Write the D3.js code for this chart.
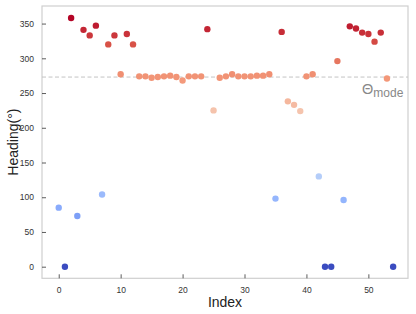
<!DOCTYPE html>
<html lang="en">
<head>
  <meta charset="UTF-8">
  <title>Heading vs Index</title>
  <style>
    body { margin: 0; background: #fff; }
    svg { display: block; font-family: "Liberation Sans", Arial, sans-serif; }
  </style>
</head>
<body>
  <svg width="416" height="314"></svg>
  <script src="https://d3js.org/d3.v7.min.js"></script>
  <script>
    // data: heading (deg) per sample index
    const indices = d3.range(55);
    const headings = [
      85, 0, 358, 73, 341, 333, 347, 104, 320, 333,
      277, 335, 320, 274, 274, 272, 273, 274, 275, 273,
      268, 274, 274, 274, 342, 225, 272, 274, 277, 274,
      274, 274, 275, 275, 277, 98, 338, 238, 233, 224,
      274, 277, 130, 0, 0, 296, 96, 346, 343, 337,
      335, 324, 337, 271, 0
    ];
    const modeHeading = 273;
    const xTicks = [0, 10, 20, 30, 40, 50];
    const yTicks = [0, 50, 100, 150, 200, 250, 300, 350];

    const svg = d3.select("svg");
    const mLeft = 42, mRight = 408, mTop = 6, mBottom = 278.3;

    const x = d3.scaleLinear().domain([-2.7, 56.4]).range([mLeft, mRight]);
    const y = d3.scaleLinear().domain([-16.7, 375.3]).range([mBottom, mTop]);

    // matplotlib "coolwarm" approximation
    const coolwarm = d3.piecewise(d3.interpolateRgb, [
      "#3b4cc0", "#6282ea", "#8db0fe", "#b8d0f9", "#dddddd",
      "#f5c4ad", "#f49a7b", "#de604d", "#b40426"
    ]);
    const color = d3.scaleSequential(coolwarm).domain(d3.extent(headings));

    // frame
    svg.append("rect")
      .attr("x", mLeft).attr("y", mTop)
      .attr("width", mRight - mLeft).attr("height", mBottom - mTop)
      .attr("fill", "none").attr("stroke", "#cfcfcf").attr("stroke-width", 1.2);

    // ticks (inward) and labels
    const tickColor = "#333";
    const xg = svg.append("g").attr("transform", `translate(0,${mBottom})`)
      .call(d3.axisBottom(x).tickValues(xTicks).tickSizeInner(-4).tickSizeOuter(0).tickPadding(9));
    const yg = svg.append("g").attr("transform", `translate(${mLeft},0)`)
      .call(d3.axisLeft(y).tickValues(yTicks).tickSizeInner(-4).tickSizeOuter(0).tickPadding(8));
    [xg, yg].forEach(g => {
      g.select(".domain").remove();
      g.selectAll("line").attr("stroke", tickColor).attr("stroke-width", 0.8);
      g.selectAll("text").attr("fill", "#333").style("font-size", "8.5px")
        .style("font-family", "'Liberation Sans', Arial, sans-serif");
    });

    // mode line
    svg.append("line")
      .attr("x1", mLeft).attr("x2", mRight)
      .attr("y1", y(modeHeading)).attr("y2", y(modeHeading))
      .attr("stroke", "#c4c4c4").attr("stroke-width", 1)
      .attr("stroke-dasharray", "4,2.5");

    const lbl = svg.append("text")
      .attr("x", 362).attr("y", 93.5)
      .attr("fill", "#888");
    lbl.append("tspan").style("font-size", "14.5px").text("Θ");
    lbl.append("tspan").attr("dy", 3).style("font-size", "12px").text("mode");

    // points
    svg.append("g").selectAll("circle")
      .data(indices)
      .join("circle")
      .attr("cx", d => x(d))
      .attr("cy", d => y(headings[d]))
      .attr("r", 3.2)
      .attr("fill", d => color(headings[d]));

    // axis titles
    svg.append("text")
      .attr("x", (mLeft + mRight) / 2).attr("y", 306.5)
      .attr("text-anchor", "middle")
      .attr("fill", "#222").style("font-size", "14px")
      .text("Index");
    svg.append("text")
      .attr("transform", `translate(18,${(mTop + mBottom) / 2}) rotate(-90)`)
      .attr("text-anchor", "middle")
      .attr("fill", "#222").style("font-size", "14px")
      .text("Heading(°)");
  </script>
</body>
</html>
